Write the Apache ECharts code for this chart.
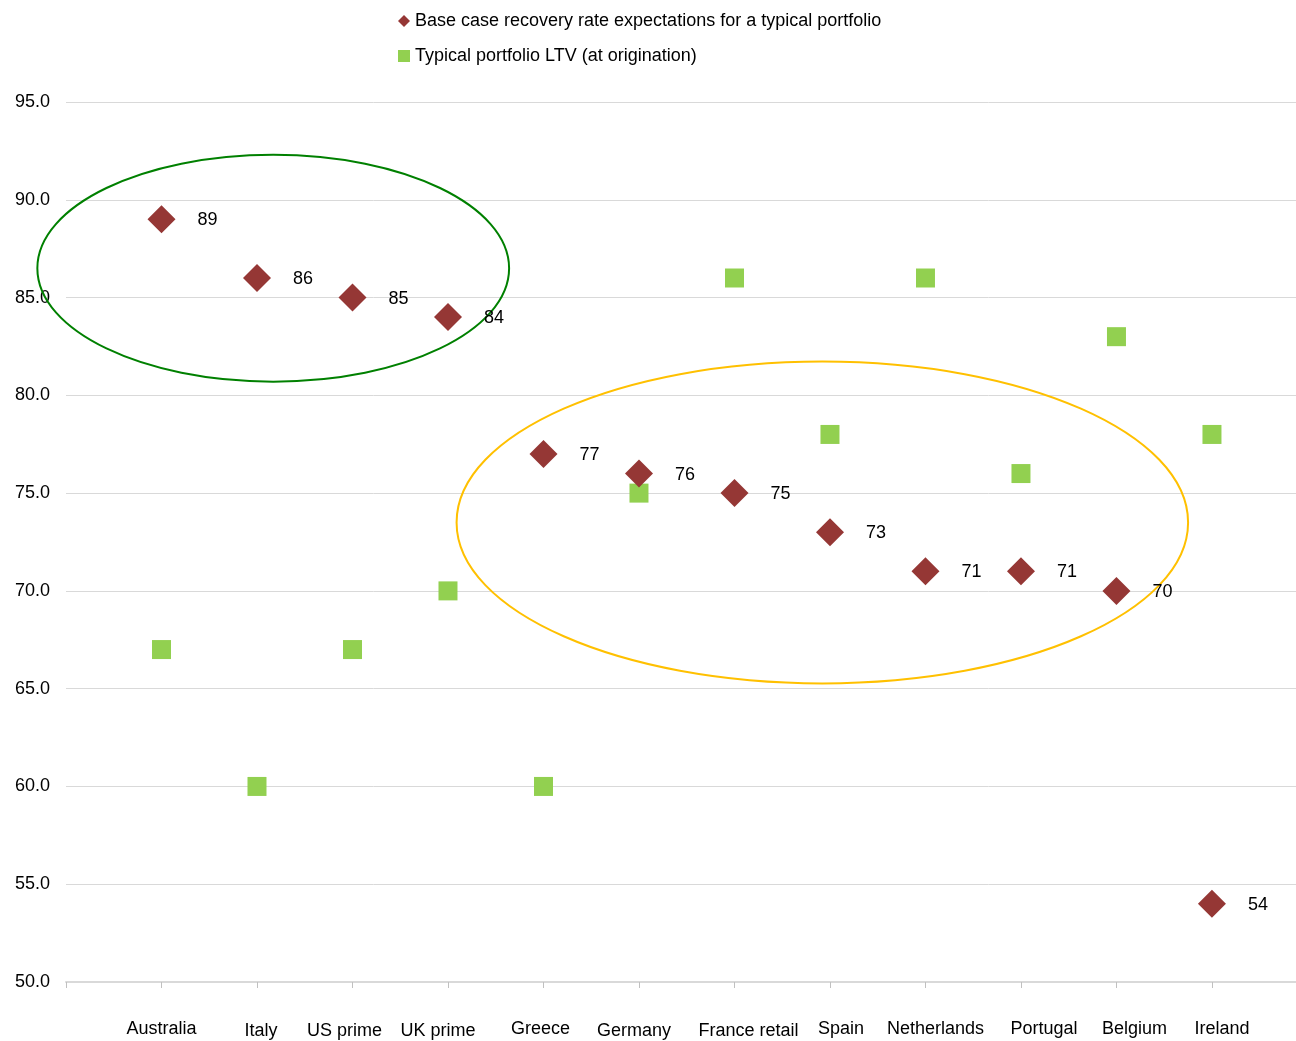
<!DOCTYPE html>
<html>
<head>
<meta charset="utf-8">
<script src="https://cdn.jsdelivr.net/npm/echarts@6/dist/echarts.min.js"></script>
<style>
  html, body { margin: 0; padding: 0; background: #fff; }
  #chart { width: 1296px; height: 1041px; }
</style>
</head>
<body>
<div id="chart"></div>
<script>
// Portfolios shown along the horizontal axis
const categories = ['Australia', 'Italy', 'US prime', 'UK prime', 'Greece', 'Germany',
  'France retail', 'Spain', 'Netherlands', 'Portugal', 'Belgium', 'Ireland'];

// Base case recovery rate expectations (%)
const recoveryRates = [89, 86, 85, 84, 77, 76, 75, 73, 71, 71, 70, 54];

// Typical portfolio LTV at origination (%)
const ltvValues = [67, 60, 67, 70, 60, 75, 86, 78, 86, 76, 83, 78];

// Y axis tick values
const yTicks = [50, 55, 60, 65, 70, 75, 80, 85, 90, 95];

const seriesNames = [
  'Base case recovery rate expectations for a typical portfolio',
  'Typical portfolio LTV (at origination)'
];

const FONT = '"Liberation Sans", Arial, sans-serif';
const tickPositions = categories.map((_, i) => i).concat([categories.length]);

// Small horizontal / vertical nudges for the category captions, in px
const captionNudgeX = [0, 4, -8, -10, -3, -5, 14, 11, 10, 23, 18, 10];
const captionNudgeY = [0, 2, 2, 2, 0, 2, 2, 0, 0, 0, 0, 0];

const captionRich = {};
categories.forEach((_, i) => {
  const dx = captionNudgeX[i];
  captionRich['c' + i] = {
    fontFamily: FONT, fontSize: 18, color: '#000',
    padding: [captionNudgeY[i], dx < 0 ? -2 * dx : 0, 0, dx > 0 ? 2 * dx : 0]
  };
});

const chart = echarts.init(document.getElementById('chart'), null, { renderer: 'canvas' });

const option = {
  animation: false,
  backgroundColor: '#ffffff',
  textStyle: { fontFamily: FONT },
  grid: { left: 66, right: 0, top: 102, bottom: 59, containLabel: false },
  legend: {
    orient: 'vertical',
    left: 393,
    top: 7,
    itemWidth: 12,
    itemHeight: 12,
    itemGap: 17,
    textStyle: { fontFamily: FONT, fontSize: 18, color: '#000' },
    data: [
      { name: seriesNames[0], icon: 'diamond' },
      { name: seriesNames[1], icon: 'rect' }
    ]
  },
  xAxis: {
    type: 'value',
    min: 0,
    max: 12.88,
    interval: 1,
    splitLine: { show: false },
    axisLine: { show: true, lineStyle: { color: '#d9d9d9', width: 2 } },
    axisTick: {
      show: true, length: 6, lineStyle: { color: '#c0c0c0', width: 1 },
      customValues: tickPositions
    },
    axisLabel: {
      margin: 38,
      fontFamily: FONT, fontSize: 18, color: '#000',
      customValues: categories.map((_, i) => i + 1),
      formatter: v => {
        const i = Math.round(v) - 1;
        return categories[i] ? '{c' + i + '|' + categories[i] + '}' : '';
      },
      rich: captionRich
    }
  },
  yAxis: {
    type: 'value',
    min: yTicks[0],
    max: yTicks[yTicks.length - 1],
    interval: 5,
    axisLine: { show: false },
    axisTick: { show: false },
    splitLine: { lineStyle: { color: '#d9d9d9', width: 1 } },
    axisLabel: {
      margin: 16,
      fontFamily: FONT, fontSize: 18, color: '#000',
      padding: [6, 0, 0, 0],
      formatter: v => v.toFixed(1)
    }
  },
  series: [
    {
      name: seriesNames[0],
      type: 'scatter',
      symbol: 'diamond',
      symbolSize: 28,
      itemStyle: { color: '#953735', opacity: 1 },
      z: 3,
      label: {
        show: true,
        position: 'right',
        distance: 22,
        offset: [0, 1],
        fontFamily: FONT, fontSize: 18, color: '#000', opacity: 1,
        formatter: p => p.value[1]
      },
      emphasis: { disabled: true },
      data: recoveryRates.map((v, i) => [i + 1, v])
    },
    {
      name: seriesNames[1],
      type: 'scatter',
      symbol: 'rect',
      symbolSize: 19,
      itemStyle: { color: '#92d050', opacity: 1 },
      z: 2,
      emphasis: { disabled: true },
      data: ltvValues.map((v, i) => [i + 1, v])
    }
  ]
};

chart.setOption(option);

// Highlight rings around the two portfolio groups, defined in data units
const groupRings = [
  { cx: 2.17, cy: 86.5, rx: 2.47, ry: 5.8, color: '#008000' },
  { cx: 7.92, cy: 73.5, rx: 3.83, ry: 8.23, color: '#ffc000' }
];

function drawRings() {
  const elements = groupRings.map(r => {
    const c = chart.convertToPixel({ gridIndex: 0 }, [r.cx, r.cy]);
    const e = chart.convertToPixel({ gridIndex: 0 }, [r.cx + r.rx, r.cy + r.ry]);
    return {
      type: 'ellipse',
      silent: true,
      z: 1,
      shape: { cx: c[0], cy: c[1], rx: Math.abs(e[0] - c[0]), ry: Math.abs(c[1] - e[1]) },
      style: { fill: 'none', stroke: r.color, lineWidth: 2 }
    };
  });
  chart.setOption({ graphic: elements });
}
drawRings();
</script>
</body>
</html>
